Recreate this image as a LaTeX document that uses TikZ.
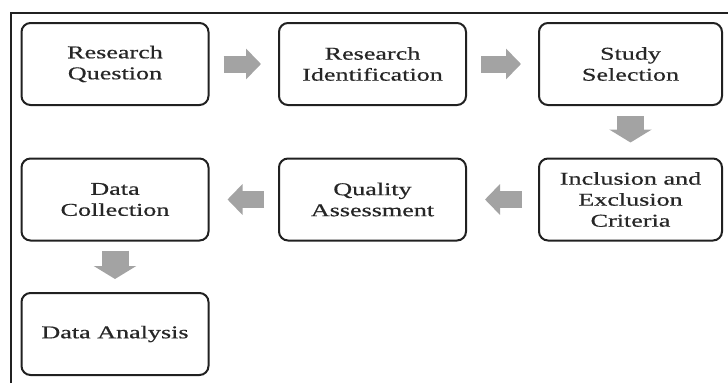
\documentclass[tikz,border=0pt]{standalone}
\usepackage{fontspec}
\setmainfont[FakeStretch=1.45,FakeBold=0.6]{Liberation Serif}
\usetikzlibrary{arrows.meta}
\definecolor{arrowgray}{gray}{0.64}
\definecolor{boxline}{gray}{0.13}
\begin{document}
\begin{tikzpicture}[x=1pt,y=-1pt,
  stage/.style={draw=boxline,line width=2pt,rounded corners=9pt,minimum width=187pt,minimum height=82pt,inner sep=0pt,align=center,text=black!85,font=\fontsize{18}{21}\selectfont},
  harrow/.style={arrowgray,line width=17pt,-{Triangle[width=30pt,length=15pt]}},
  varrow/.style={arrowgray,line width=27pt,-{Triangle[width=42pt,length=13pt]}}]
\useasboundingbox (0,0) rectangle (728,383);
\draw[line width=2.2pt,boxline] (11,383) -- (11,13) -- (728,13);
\node[stage] (rq) at (115,64) {Research\\Question};
\node[stage] (ri) at (372.5,64) {Research\\Identification};
\node[stage,minimum width=183pt] (ss) at (630.5,64) {Study\\Selection};
\node[stage,minimum width=183pt] (ie) at (630.5,199.5) {Inclusion and\\Exclusion\\Criteria};
\node[stage] (qa) at (372.5,199.5) {Quality\\Assessment};
\node[stage] (dc) at (115,199.5) {Data\\Collection};
\node[stage] (da) at (115,334) {Data Analysis};
\draw[harrow,shorten <=14pt,shorten >=17pt] (rq) -- (ri);
\draw[harrow,shorten <=14pt,shorten >=17pt] (ri) -- (ss);
\draw[varrow,shorten <=10pt,shorten >=15pt] (ss) -- (ie);
\draw[harrow,shorten <=16pt,shorten >=18pt] (ie) -- (qa);
\draw[harrow,shorten <=14pt,shorten >=18pt] (qa) -- (dc);
\draw[varrow,shorten <=9pt,shorten >=13pt] (dc) -- (da);
\end{tikzpicture}
\end{document}
